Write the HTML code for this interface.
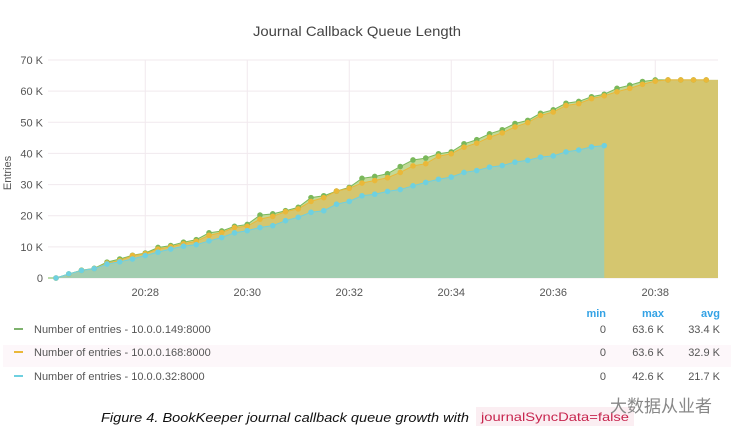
<!DOCTYPE html>
<html><head><meta charset="utf-8"><style>
body{margin:0;background:#fff;width:739px;height:439px;overflow:hidden;font-family:"Liberation Sans","Noto Sans CJK SC",sans-serif;}
svg text{font-family:"Liberation Sans","Noto Sans CJK SC",sans-serif;}
</style></head><body>
<svg id="chart" width="739" height="439" viewBox="0 0 739 439" xmlns="http://www.w3.org/2000/svg">
<text x="357" y="36" text-anchor="middle" font-size="14" fill="#444" textLength="208" lengthAdjust="spacingAndGlyphs">Journal Callback Queue Length</text>
<g id="grid"></g><g id="areas"></g><g id="pts"></g><g id="axes"></g>
<text transform="translate(11,173) rotate(-90)" text-anchor="middle" font-size="11" fill="#555">Entries</text>
<rect x="3" y="345" width="728" height="22" fill="#fdf7fa"/>
<text x="606" y="317" text-anchor="end" font-size="11" font-weight="bold" fill="#33a2e5">min</text>
<text x="664" y="317" text-anchor="end" font-size="11" font-weight="bold" fill="#33a2e5">max</text>
<text x="720" y="317" text-anchor="end" font-size="11" font-weight="bold" fill="#33a2e5">avg</text>
<g id="legend"></g>
<text x="101" y="422" font-size="13" font-style="italic" fill="#111" textLength="368" lengthAdjust="spacingAndGlyphs">Figure 4. BookKeeper journal callback queue growth with</text>
<rect x="476" y="407" width="158" height="19" fill="#fbeef2"/>
<text x="481" y="421" font-size="12" fill="#c7254e" font-family="Liberation Mono,monospace" textLength="148" lengthAdjust="spacingAndGlyphs">journalSyncData=false</text>
<text x="610" y="412" font-size="17" fill="#888">大数据从业者</text>
</svg>
<script>
const seriesNames=["Number of entries - 10.0.0.149:8000","Number of entries - 10.0.0.168:8000","Number of entries - 10.0.0.32:8000"];
const green=[0,1.3,2.5,3.1,5.1,6.1,7.3,8,9.8,10.4,11.5,12.3,14.5,15.1,16.6,17.2,20.2,20.6,21.6,22.7,25.8,26.4,27.9,29.1,32,32.6,33.5,35.8,37.9,38.5,39.9,40.5,43.1,44.4,46.3,47.6,49.6,50.6,52.9,54,56.1,56.7,58.2,59,60.9,61.9,63.1,63.6,63.6,63.6,63.6,63.6];
const yellow=[0,1.2,2.4,3,4.8,5.6,7.2,7.8,9.3,10,11,11.8,13.7,14.6,16.2,16.6,18.9,19.8,21.3,22.2,24.6,25.8,27.9,28.8,30.5,31.3,32.2,33.9,36,36.7,39.1,39.9,42,43.3,45.2,46.6,48.5,49.9,52.2,53.3,55.4,56,57.6,58.5,59.8,60.9,62.2,63.2,63.6,63.6,63.6,63.6];
const blue=[0,1.3,2.4,3,4.5,5.2,6.1,7.2,8.3,9.3,10.2,10.7,11.9,13,14.5,15.2,16.2,16.8,18.4,19.5,21.1,21.6,23.7,24.6,26.4,26.9,27.8,28.4,29.6,30.7,31.7,32.4,33.9,34.5,35.6,36.1,37.2,37.8,38.8,39.2,40.5,41.1,42.1,42.5];
const yTicks=[0,10,20,30,40,50,60,70];
const yTickLabels=["0","10 K","20 K","30 K","40 K","50 K","60 K","70 K"];
const xTickIdx=[7,15,23,31,39,47];
const xTickLabels=["20:28","20:30","20:32","20:34","20:36","20:38"];
const legendMin=["0","0","0"],legendMax=["63.6 K","63.6 K","42.6 K"],legendAvg=["33.4 K","32.9 K","21.7 K"];
const NS="http://www.w3.org/2000/svg";
const X0=48,X1=718,Y0=278,Y1=60;
const xs=i=>56+i*12.75;
const ys=v=>Y0-(v/70)*(Y0-Y1);
function mk(t,a,p){const e=document.createElementNS(NS,t);for(const k in a)e.setAttribute(k,a[k]);p.appendChild(e);return e;}
const grid=document.getElementById('grid'),axes=document.getElementById('axes');
yTicks.forEach((v,i)=>{
 const l=mk('line',{x1:X0,x2:X1,y1:ys(v),y2:ys(v),stroke:'#f1e9ee','stroke-width':1},grid);
 
 
 const t=mk('text',{x:43,y:ys(v)+4,'text-anchor':'end','font-size':11,fill:'#555'},axes);t.textContent=yTickLabels[i];
 
 
});
xTickIdx.forEach((idx,i)=>{
 const x=xs(idx);
 const l=mk('line',{x1:x,x2:x,y1:Y1,y2:Y0,stroke:'#f1e9ee','stroke-width':1},grid);
 
 
 const t=mk('text',{x:x,y:296,'text-anchor':'middle','font-size':11,fill:'#555'},axes);t.textContent=xTickLabels[i];
 
 
});
const areas=document.getElementById('areas'),pts=document.getElementById('pts');
function area(data,fill,line,name,endX){
 let d='M'+xs(0)+','+Y0;data.forEach((v,i)=>d+=' L'+xs(i)+','+ys(v));
 const last=xs(data.length-1);
 if(endX){d+=' L'+endX+','+ys(data[data.length-1])+' L'+endX+','+Y0;}else d+=' L'+last+','+Y0;
 d+=' Z';
 const p=mk('path',{d:d,fill:fill},areas);
 
 
 let ld='';data.forEach((v,i)=>ld+=(i?' L':'M')+xs(i)+','+ys(v));
 const pl=mk('path',{d:ld,fill:'none',stroke:line,'stroke-width':1},areas);
 
 
 data.forEach((v,i)=>{const c=mk('circle',{cx:xs(i),cy:ys(v),r:2.8,fill:line},pts);
  
  });
}
mk('line',{x1:X0,x2:xs(0),y1:Y0,y2:Y0,stroke:'#a3d08c','stroke-width':1.5},areas);
area(green,'#c3d996','#7ab85b','series-149',X1);
area(yellow,'#d5c66f','#eab839','series-168',X1);
area(blue,'#a2cdb0','#6ed0e0','series-32',null);
const lg=document.getElementById('legend');
const cols=['#7eb26d','#eab839','#6ed0e0'];
[333,356,380].forEach((y,i)=>{
 const g=mk('g',{},lg);
 
 
 mk('rect',{x:14,y:y-5,width:9,height:2,fill:cols[i]},g);
 const t=mk('text',{x:34,y:y,'font-size':11,fill:'#555'},g);t.textContent=seriesNames[i];
 const a=mk('text',{x:606,y:y,'text-anchor':'end','font-size':11,fill:'#555'},g);a.textContent=legendMin[i];
 const b=mk('text',{x:664,y:y,'text-anchor':'end','font-size':11,fill:'#555'},g);b.textContent=legendMax[i];
 const c=mk('text',{x:720,y:y,'text-anchor':'end','font-size':11,fill:'#555'},g);c.textContent=legendAvg[i];
});
</script>
</body></html>
